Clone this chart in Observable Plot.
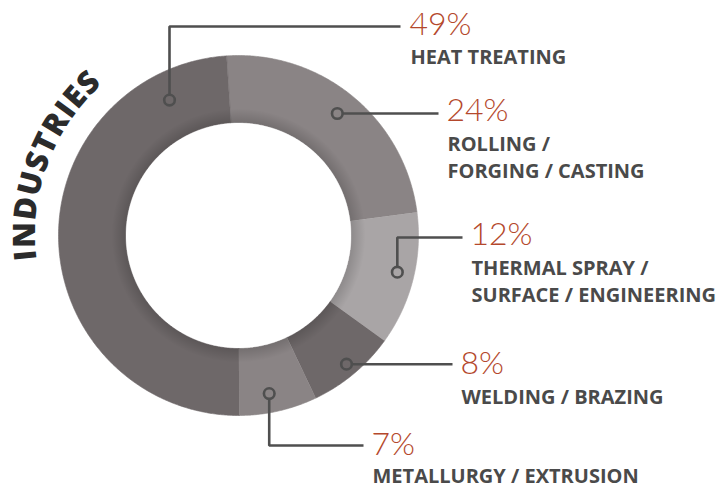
<!DOCTYPE html>
<html><head><meta charset="utf-8">
<script src="https://cdn.jsdelivr.net/npm/d3@7"></script>
<script src="https://cdn.jsdelivr.net/npm/@observablehq/plot@0.6"></script>
<style>body{margin:0;background:#fff} #chart{width:721px;height:488px}</style>
</head><body><div id="chart"></div>
<script>
// ---- data ----
const categories = ["ROLLING /\nFORGING / CASTING", "THERMAL SPRAY /\nSURFACE / ENGINEERING", "WELDING / BRAZING", "METALLURGY / EXTRUSION", "HEAT TREATING"];
const values = [24, 12, 8, 7, 49];
const percentLabels = ["24%", "12%", "8%", "7%", "49%"];
const sliceColors = ["#8a8485", "#a9a5a6", "#6e6869", "#8a8485", "#6e6869"];
const title = "INDUSTRIES";

// ---- layout ----
const W = 721, H = 488, cx = 238, cy = 235, R = 180, r0 = 113, startDeg = -3.8;
const layout = [
  {a: 39,  rr: 157, elbowY: null, endX: 438, tx: 446, pctY: 120, lblY: 177},
  {a: 103, rr: 163, elbowY: 237,  endX: 462, tx: 470, pctY: 244, lblY: 301},
  {a: 140, rr: 168, elbowY: null, endX: 452, tx: 460, pctY: 373, lblY: 403},
  {a: 169, rr: 161, elbowY: 445,  endX: 363, tx: 371, pctY: 454, lblY: 482},
  {a: 333, rr: 152, elbowY: 26,   endX: 400, tx: 409, pctY: 34,  lblY: 63}
];
const rad = d => d * Math.PI / 180;
const polar = (a, r) => [cx + r * Math.sin(a), cy - r * Math.cos(a)];

const pie = d3.pie().sort(null).startAngle(rad(startDeg)).endAngle(rad(startDeg) + 2 * Math.PI)(values);
const arcPts = [];
pie.forEach((p, i) => {
  const n = Math.max(8, Math.ceil((p.endAngle - p.startAngle) / rad(0.5)));
  for (let k = 0; k <= n; k++) { const a = p.startAngle + (p.endAngle - p.startAngle) * k / n; const [x, y] = polar(a, R); arcPts.push({cat: categories[i], x, y}); }
  for (let k = n; k >= 0; k--) { const a = p.startAngle + (p.endAngle - p.startAngle) * k / n; const [x, y] = polar(a, r0); arcPts.push({cat: categories[i], x, y}); }
});

const rows = categories.map((c, i) => {
  const L = layout[i];
  const [dx, dy] = polar(rad(L.a), L.rr);
  return {cat: c, pct: percentLabels[i], dx, dy, ...L};
});
const leaderPts = [];
rows.forEach(d => {
  leaderPts.push({cat: d.cat, x: d.dx, y: d.dy});
  if (d.elbowY != null) { leaderPts.push({cat: d.cat, x: d.dx, y: d.elbowY}); leaderPts.push({cat: d.cat, x: d.endX, y: d.elbowY}); }
  else leaderPts.push({cat: d.cat, x: d.endX, y: d.dy});
});

const labelFont = "'Open Sans', 'Noto Sans', sans-serif";
const chart = Plot.plot({
  width: W, height: H, margin: 0,
  x: {domain: [0, W], range: [0, W], axis: null},
  y: {domain: [0, H], range: [0, H], axis: null},
  color: {domain: categories, range: sliceColors},
  marks: [
    Plot.line(arcPts, {x: "x", y: "y", z: "cat", fill: "cat", stroke: "cat", strokeWidth: 0.6, curve: "linear"}),
    Plot.dot([0], {x: () => cx, y: () => cy, r: r0 + 14, fill: "url(#innerShade)", stroke: "none"}),
    Plot.line(leaderPts, {x: "x", y: "y", z: "cat", stroke: "#4f4f4f", strokeWidth: 2.6, strokeLinejoin: "miter", strokeLinecap: "butt"}),
    Plot.dot(rows, {x: "dx", y: "dy", r: 5.3, fill: "cat", stroke: "#4f4f4f", strokeWidth: 2.6}),
    Plot.text(rows, {x: "tx", y: "pctY", text: "pct", textAnchor: "start", lineAnchor: "bottom", fill: "#b4482c", fontSize: 32, fontFamily: "Lato, 'Open Sans', sans-serif", fontWeight: 300}),
    Plot.text(rows, {x: d => d.tx + 1, y: "lblY", text: "cat", textAnchor: "start", lineAnchor: "bottom", lineHeight: 1.35, fill: "#4a4a4a", fontSize: 20, fontFamily: labelFont, fontWeight: 700})
  ]
});
document.getElementById("chart").appendChild(chart);

// defs + curved title
const svg = d3.select(chart);
const defs = svg.insert("defs", ":first-child");
const g = defs.append("radialGradient").attr("id", "innerShade");
const f = r0 / (r0 + 14);
g.append("stop").attr("offset", 0).attr("stop-color", "#000").attr("stop-opacity", 0);
g.append("stop").attr("offset", f - 0.001).attr("stop-color", "#000").attr("stop-opacity", 0);
g.append("stop").attr("offset", f).attr("stop-color", "#000").attr("stop-opacity", 0.16);
g.append("stop").attr("offset", 1).attr("stop-color", "#000").attr("stop-opacity", 0);
const xs = chart.scale("x"), ys = chart.scale("y");
const tr = 203;
const [sx, sy] = polar(rad(-97), tr), [ex, ey] = polar(rad(-20), tr);
defs.append("path").attr("id", "titlePath")
  .attr("d", `M${xs.apply(sx)},${ys.apply(sy)} A${tr},${tr} 0 0 1 ${xs.apply(ex)},${ys.apply(ey)}`);
svg.append("text").attr("font-family", labelFont).attr("font-weight", 800).attr("font-size", 31)
  .attr("letter-spacing", 1).attr("fill", "#2b2b2b").attr("text-anchor", "start")
  .append("textPath").attr("href", "#titlePath").attr("startOffset", 0).attr("text-anchor", "start").text(title);
</script>
</body></html>
